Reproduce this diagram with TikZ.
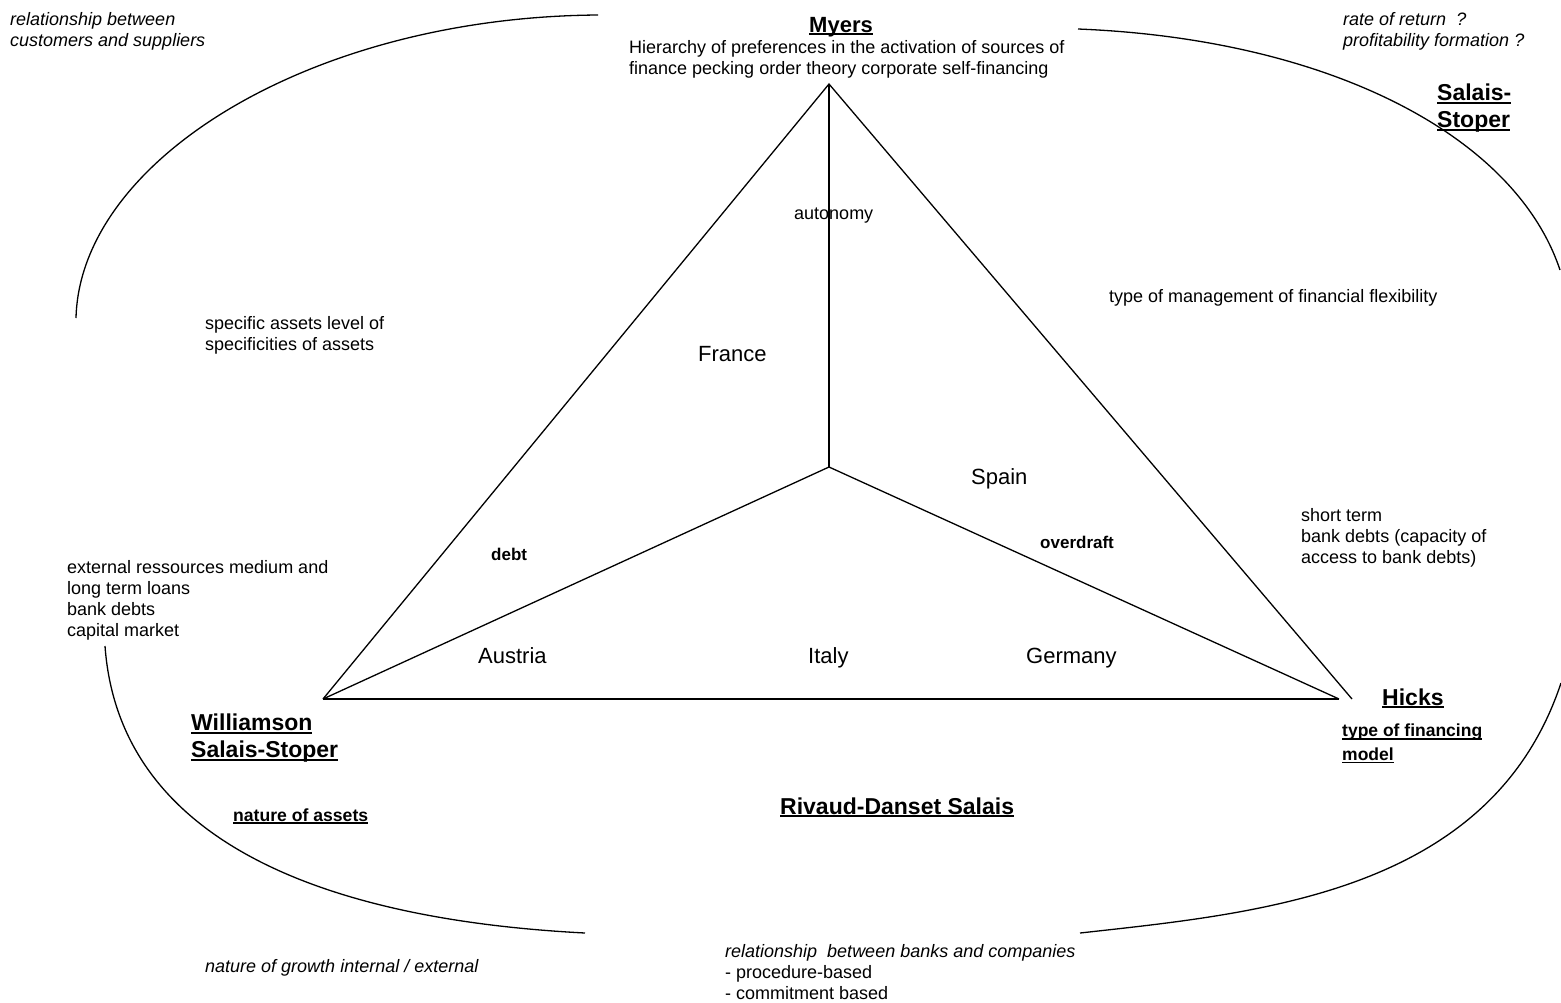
\documentclass[tikz,border=0pt]{standalone}
\usepackage{fontspec}
\setmainfont{Liberation Sans}
\newsavebox\ulbox
\newcommand\myul[1]{\sbox\ulbox{#1}\rlap{\rule[-3pt]{\wd\ulbox}{1.6pt}}\usebox\ulbox}
\begin{document}
\begin{tikzpicture}[x=1pt,y=-1pt,
  txt/.style={inner sep=0pt, font=\fontsize{18}{21}\selectfont},
  itx/.style={inner sep=0pt, font=\fontsize{18}{21}\selectfont\itshape},
  country/.style={inner sep=0pt, font=\fontsize{22}{26}\selectfont},
  kw/.style={inner sep=0pt, font=\fontsize{17}{20}\selectfont\bfseries},
  author/.style={inner sep=0pt, font=\fontsize{23}{27}\selectfont\bfseries},
  sub/.style={inner sep=0pt, font=\fontsize{17.5}{23.5}\selectfont\bfseries},
  edge/.style={line width=1.3pt, line join=miter},
  arc/.style={line width=1.3pt}]
\useasboundingbox (0,0) rectangle (1561,1002);

% triangle
\coordinate (A) at (829,84);
\coordinate (L) at (323,699);
\coordinate (R) at (1352,699);
\coordinate (Rb) at (1339,699);
\coordinate (C) at (829,467);
\draw[edge] (L) -- (A) -- (R);
\draw[edge] (L) -- (Rb);
\draw[edge] (A) -- (C);
\draw[edge] (C) -- (L);
\draw[edge] (C) -- (Rb);

% surrounding arcs
\draw[arc] (76,318) .. controls (80,160) and (311,17) .. (598,15);
\draw[arc] (1078,29) .. controls (1328,39) and (1515,135) .. (1560,270);
\draw[arc] (1561,683) .. controls (1491,893) and (1260,913) .. (1080,933);
\draw[arc] (105,646) .. controls (118,826) and (295,918) .. (585,933);

% top
\node[author, font=\fontsize{22}{26}\selectfont\bfseries, anchor=base] (myers) at (841,32) {\myul{Myers}};
\node[txt, anchor=north west, align=left] (myersd) at (629,40) {Hierarchy of preferences in the activation of sources of\\finance pecking order theory corporate self-financing};
\node[itx, anchor=north west, align=left] (cs) at (10,12) {relationship between\\customers and suppliers};
\node[itx, anchor=north west, align=left] (rr) at (1343,12) {rate of return\ \ ?\\profitability formation ?};
\node[author, anchor=north west, align=left] (ss1) at (1437,84) {\myul{Salais-}\\\myul{Stoper}};

% middle
\node[txt, anchor=base west] (auto) at (794,219) {autonomy};
\node[txt, anchor=base west] (flex) at (1109,302) {type of management of financial flexibility};
\node[txt, anchor=north west, align=left] (spec) at (205,316) {specific assets level of\\specificities of assets};
\node[country, anchor=base west] (fr) at (698,361) {France};
\node[country, anchor=base west] (es) at (971,484) {Spain};
\node[country, anchor=base west] (at) at (478,663) {Austria};
\node[country, anchor=base west] (it) at (808,663) {Italy};
\node[country, anchor=base west] (de) at (1026,663) {Germany};
\node[kw, anchor=base west] (od) at (1040,548) {overdraft};
\node[kw, anchor=base west] (debt) at (491,560) {debt};
\node[txt, anchor=north west, align=left] (st) at (1301,508) {short term\\bank debts (capacity of\\access to bank debts)};
\node[txt, anchor=north west, align=left] (ext) at (67,560) {external ressources medium and\\long term loans\\bank debts\\capital market};

% bottom
\node[author, anchor=base west] (hicks) at (1382,705) {\myul{Hicks}};
\node[sub, anchor=north west, align=left] (tfm) at (1342,724) {\myul{type of financing}\\\myul{model}};
\node[author, anchor=north west, align=left] (will) at (191,714) {\myul{Williamson}\\\myul{Salais-Stoper}};
\node[sub, font=\fontsize{17.6}{21}\selectfont\bfseries, anchor=base west] (na) at (233,821) {\myul{nature of assets}};
\node[author, anchor=base west] (rds) at (780,814) {\myul{Rivaud-Danset Salais}};
\node[itx, anchor=base west] (ng) at (205,972) {nature of growth internal / external};
\node[txt, anchor=north west, align=left] (rbc) at (725,944) {\textit{relationship\ \ between banks and companies}\\- procedure-based\\- commitment based};
\end{tikzpicture}
\end{document}
